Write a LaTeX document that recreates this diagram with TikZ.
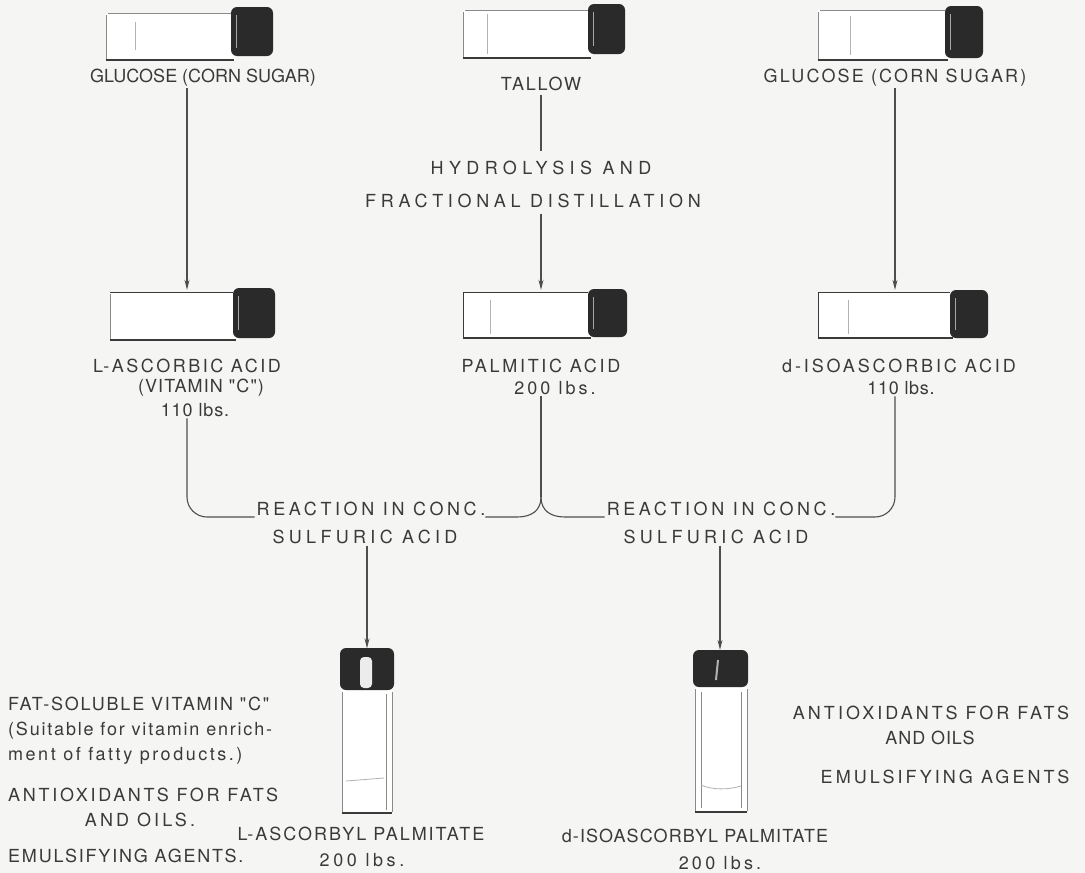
\documentclass[tikz,border=0pt]{standalone}
\usepackage{fontspec}
\newfontfamily\labelfont{TeX Gyre Heros}
\usetikzlibrary{arrows.meta}
\definecolor{ink}{HTML}{3A3A3A}
\definecolor{paper}{HTML}{F5F5F3}
\definecolor{capc}{HTML}{2A2A2A}
\definecolor{rimc}{HTML}{8A8A8A}

% horizontal vial: left x, top y, bottom y, cap left x, cap right x, cap lift
\newcommand{\hvialdraw}[6]{%
  \fill[white] (#1,#2) rectangle (#4+4,#3);
  \draw[rim] (#1+2,#2) -- (#4,#2);
  \draw[rim] (#1,#2+2) -- (#1,#3-1);
  \draw[rimdark] (#1,#3) -- (#4+3,#3);
  \fill[capc, rounded corners=6pt] (#4,#2-#6) rectangle (#5,#3-#6+2);
  \draw[gray!70, line width=0.8pt] (#4+5,#2-#6+8) -- (#4+5,#3-#6-6);
}

\begin{document}
\begin{tikzpicture}[x=1pt,y=-1pt,
  t/.style={text=ink, inner sep=0pt, anchor=base,
    font=\labelfont\fontsize{18}{22}\selectfont\addfontfeatures{LetterSpace=#1}},
  t/.default=10,
  note/.style={t=#1, anchor=base west},
  cnote/.style={t=#1, anchor=base},
  wire/.style={draw=ink!90, line width=1.1pt},
  arr/.style={wire, -{Stealth[length=10pt,width=5pt]}},
  rim/.style={draw=rimc, line width=0.8pt},
  rimdark/.style={draw=ink, line width=1.2pt},
  spot/.style={inner sep=0pt, draw=none}]

\fill[paper] (0,0) rectangle (1085,873);
\useasboundingbox (0,0) rectangle (1085,873);

% ---------- raw materials ----------
\hvialdraw{106}{13}{60}{231}{273}{6}
\hvialdraw{463}{10}{58}{588}{625}{6}
\hvialdraw{818}{10}{60}{945}{983}{4}
\draw[rim, gray!60] (135,22) -- (135,50);
\draw[rim, gray!60] (487,14) -- (487,54);
\draw[rim, gray!60] (850,16) -- (850,55);
\node[spot, minimum width=167pt, minimum height=50pt] (vGL) at (190,34) {};
\node[spot, minimum width=162pt, minimum height=50pt] (vTA) at (544,33) {};
\node[spot, minimum width=165pt, minimum height=52pt] (vGR) at (900,34) {};

\node[t=0]  (gluL) at (203,82) {GLUCOSE (CORN SUGAR)};
\node[t=10] (tal)  at (541,90) {TALLOW};
\node[t=12] (gluR) at (895,82) {GLUCOSE (CORN SUGAR)};

\node[t=30] (hyd1) at (541,174) {HYDROLYSIS AND};
\node[t=26] (hyd2) at (533,207) {FRACTIONAL DISTILLATION};

% ---------- intermediates ----------
\hvialdraw{110}{292}{340}{233}{275}{4}
\hvialdraw{463}{292}{338}{588}{627}{3}
\hvialdraw{818}{292}{338}{950}{988}{2}
\draw[rimdark, line width=0.9pt] (110,292) -- (233,292);
\draw[rimdark, line width=0.9pt] (463,292) -- (588,292) (463,292) -- (463,338);
\draw[rimdark, line width=0.9pt] (818,292) -- (950,292) (818,292) -- (818,338);
\draw[rim, gray!60] (490,300) -- (490,334);
\draw[rim, gray!60] (848,300) -- (848,334);
\node[spot, minimum width=165pt, minimum height=50pt] (vAL) at (192,315) {};
\node[spot, minimum width=164pt, minimum height=50pt] (vPA) at (545,315) {};
\node[spot, minimum width=170pt, minimum height=50pt] (vIS) at (903,315) {};

\node[t=14] (asc1) at (187,372) {L-ASCORBIC ACID};
\node[t=6]  (asc2) at (201,392) {(VITAMIN "C")};
\node[t=5]  (asc3) at (195,416) {110 lbs.};
\node[t=15] (pal1) at (541,372) {PALMITIC ACID};
\node[t=17] (pal2) at (555,394) {200 lbs.};
\node[t=16] (iso1) at (899,372) {d-ISOASCORBIC ACID};
\node[t=4]  (iso2) at (901,394) {110 lbs.};

\node[t=20] (rx1) at (371,515) {REACTION IN CONC.};
\node[t=24] (rx2) at (365,543) {SULFURIC ACID};
\node[t=20] (ry1) at (721,515) {REACTION IN CONC.};
\node[t=24] (ry2) at (716,543) {SULFURIC ACID};

% ---------- products ----------
% L-ascorbyl palmitate
\fill[white] (342,690) rectangle (392,813);
\draw[rim] (342,692) -- (342,812);
\draw[rim] (392,692) -- (392,812) (386,694) -- (386,810);
\draw[rimdark] (342,813) -- (392,813);
\draw[rim, gray!60] (346,781) -- (384,778);
\fill[capc, rounded corners=6pt] (340,648) rectangle (394,690);
\fill[white!85!gray, rounded corners=4pt] (360,657) rectangle (372,688);
\node[spot, minimum width=54pt, minimum height=165pt] (vBL) at (367,731) {};
% d-isoascorbyl palmitate
\fill[white] (695,687) rectangle (747,812);
\draw[rim] (695,689) -- (695,811);
\draw[rim] (747,689) -- (747,811) (741,692) -- (741,808) (701,692) -- (701,808);
\draw[rimdark] (695,812) -- (747,812);
\draw[rim, gray!60] (701,785) .. controls (712,790) and (728,790) .. (741,786);
\fill[capc, rounded corners=6pt] (693,650) rectangle (748,687);
\draw[gray!60, line width=2pt] (718,660) -- (716,680);
\node[spot, minimum width=55pt, minimum height=162pt] (vBR) at (720,731) {};

\node[t=11] (lap1) at (361,840) {L-ASCORBYL PALMITATE};
\node[t=20] (lap2) at (362,866) {200 lbs.};
\node[t=6]  (iap1) at (695,842) {d-ISOASCORBYL PALMITATE};
\node[t=18] (iap2) at (720,869) {200 lbs.};

% ---------- uses ----------
\node[note=10] (u1) at (8,710) {FAT-SOLUBLE VITAMIN "C"};
\node[note=10] (u2) at (8,735) {(Suitable for vitamin enrich-};
\node[note=14] (u3) at (8,760) {ment of fatty products.)};
\node[note=15] (u4) at (8,801) {ANTIOXIDANTS FOR FATS};
\node[cnote=17] (u5) at (140,826) {AND OILS.};
\node[note=10] (u6) at (8,862) {EMULSIFYING AGENTS.};

\node[cnote=17] (w1) at (931,719) {ANTIOXIDANTS FOR FATS};
\node[cnote=5]  (w2) at (930,744) {AND OILS};
\node[cnote=17] (w3) at (945,783) {EMULSIFYING AGENTS};

% ---------- flow ----------
\draw[arr, shorten <=2pt] (gluL.south -| asc1.south) -- (vAL.north -| asc1.south);
\draw[wire, shorten <=4pt, shorten >=9pt] (tal.south) -- (hyd1.north -| tal.south);
\draw[arr, shorten <=6pt] (hyd2.south -| tal.south) -- (vPA.north -| tal.south);
\draw[arr, shorten <=2pt] (gluR.south) -- (vIS.north -| gluR.south);

\coordinate (braceTip) at (541,497);
\draw[wire, rounded corners=20pt, shorten <=2pt]
  (asc3.south -| asc1.south) |- ([xshift=-2pt, yshift=-2pt]rx1.base west);
\draw[wire, shorten <=2pt] (pal2.south -| braceTip) -- (braceTip);
\draw[wire] (braceTip) .. controls +(0,14) and +(14,0) .. ++(-24,20)
  -- ([yshift=-2pt]rx1.base east);
\draw[wire] (braceTip) .. controls +(0,14) and +(-14,0) .. ++(24,20)
  -- ([xshift=-2pt, yshift=-2pt]ry1.base west);
\draw[wire, rounded corners=20pt, shorten <=2pt]
  (iso2.south -| gluR.south) |- ([yshift=-2pt]ry1.base east);

\draw[arr, shorten <=2pt] (rx2.south -| vBL.north) -- (vBL.north);
\draw[arr, shorten <=2pt] (ry2.south -| vBR.north) -- (vBR.north);
\end{tikzpicture}
\end{document}
